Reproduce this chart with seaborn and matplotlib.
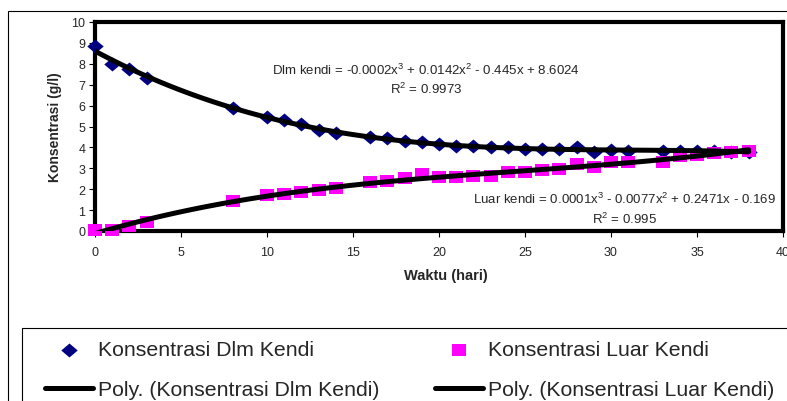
import seaborn as sns
import matplotlib.pyplot as plt
from matplotlib.patches import Rectangle
import numpy as np

# waktu (hari)
hari = [0, 1, 2, 3, 8, 10, 11, 12, 13, 14, 16, 17, 18, 19, 20, 21, 22,
        23, 24, 25, 26, 27, 28, 29, 30, 31, 33, 34, 35, 36, 37, 38]

# konsentrasi dalam kendi (g/l)
dlm_kendi = [8.85, 8.0, 7.75, 7.3, 5.9, 5.45, 5.3, 5.1, 4.85, 4.7, 4.5, 4.45,
             4.3, 4.25, 4.15, 4.07, 4.07, 4.0, 4.0, 3.9, 3.9, 3.9, 4.0, 3.78,
             3.88, 3.85, 3.85, 3.85, 3.85, 3.85, 3.8, 3.8]

# konsentrasi luar kendi (g/l)
luar_kendi = [0.05, 0.05, 0.25, 0.45, 1.45, 1.7, 1.77, 1.85, 1.97, 2.04, 2.36,
              2.41, 2.52, 2.72, 2.56, 2.6, 2.64, 2.64, 2.8, 2.8, 2.93, 2.96,
              3.2, 3.04, 3.28, 3.28, 3.28, 3.57, 3.64, 3.73, 3.79, 3.83]

lbl_dlm = 'Konsentrasi Dlm Kendi'
lbl_luar = 'Konsentrasi Luar Kendi'
lbl_poly_dlm = 'Poly. (Konsentrasi Dlm Kendi)'
lbl_poly_luar = 'Poly. (Konsentrasi Luar Kendi)'

sns.set_style('white')
plt.rcParams['font.family'] = ['Liberation Sans', 'DejaVu Sans']
plt.rcParams['mathtext.fontset'] = 'custom'
plt.rcParams['mathtext.rm'] = 'Liberation Sans'
plt.rcParams['mathtext.it'] = 'Liberation Sans:italic'

fig = plt.figure(figsize=(7.87, 4.02), dpi=100)
ax = fig.add_axes([95/787, 1 - 232/402, (783 - 95)/787, (232 - 23)/402])

# slightly wide markers (the original chart is stretched sideways)
wide_diamond = [(-1, 0), (0, 0.85), (1, 0), (0, -0.85)]
wide_square = [(-1, -0.8), (1, -0.8), (1, 0.8), (-1, 0.8)]

sns.scatterplot(x=hari, y=dlm_kendi, ax=ax, marker=wide_diamond,
                color='#000080', s=140, linewidth=0, label=lbl_dlm,
                clip_on=False, zorder=3)
sns.scatterplot(x=hari, y=luar_kendi, ax=ax, marker=wide_square,
                color='#FF00FF', s=115, linewidth=0, label=lbl_luar,
                clip_on=False, zorder=3)

# polynomial trendlines (order 3)
sns.regplot(x=hari, y=dlm_kendi, ax=ax, order=3, scatter=False, ci=None,
            label=lbl_poly_dlm, line_kws=dict(color='black', lw=3.6, zorder=4))
sns.regplot(x=hari, y=luar_kendi, ax=ax, order=3, scatter=False, ci=None,
            label=lbl_poly_luar, line_kws=dict(color='black', lw=3.6, zorder=4))

ax.set_xlim(0, 40)
ax.set_ylim(0, 10)
ax.set_xticks(range(0, 41, 5))
ax.set_yticks(range(0, 11))
ax.tick_params(axis='both', labelsize=9, length=4, width=0.8, color='black',
               direction='out', left=True, bottom=True)
ax.tick_params(axis='x', pad=6.5)
ax.tick_params(axis='y', pad=3)
for sp in ax.spines.values():
    sp.set_visible(True)
    sp.set_color('black')
    sp.set_linewidth(3)

ax.set_xlabel('Waktu (hari)', fontsize=10.5, fontweight='bold')
ax.set_ylabel('Konsentrasi (g/l)', fontsize=10, fontweight='bold')
ax.xaxis.set_label_coords(0.51, -0.175)
ax.yaxis.set_label_coords(-0.048, 0.5)

# trendline equations
ax.text(19.25, 7.75, 'Dlm kendi = -0.0002x$^3$ + 0.0142x$^2$ - 0.445x + 8.6024',
        fontsize=9.5, ha='center', va='center')
ax.text(19.25, 6.8, 'R$^2$ = 0.9973', fontsize=9.5, ha='center', va='center')
ax.text(30.78, 1.55, 'Luar kendi = 0.0001x$^3$ - 0.0077x$^2$ + 0.2471x - 0.169',
        fontsize=9.5, ha='center', va='center')
ax.text(30.78, 0.58, 'R$^2$ = 0.995', fontsize=9.5, ha='center', va='center')

# legend
h, l = ax.get_legend_handles_labels()
lookup = dict(zip(l, h))
order = [lbl_dlm, lbl_poly_dlm, lbl_luar, lbl_poly_luar]
if ax.get_legend():
    ax.get_legend().remove()
leg = fig.legend([lookup[k] for k in order], order, loc='upper left',
                 bbox_to_anchor=(45/787, 1 - 341.5/402), ncol=2, fontsize=15.3,
                 frameon=False, borderaxespad=0, borderpad=0,
                 handlelength=2.26, handletextpad=0.24, columnspacing=2.59,
                 labelspacing=0.98, markerscale=1.0)

# legend box and outer chart border (both run past the image edge)
fig.add_artist(Rectangle((21.5/787, -0.1), 1.2, 1 - 328.5/402 + 0.1,
                         transform=fig.transFigure, fill=False,
                         lw=0.8, ec='black'))
fig.add_artist(Rectangle((8/787, -0.1), 1.2, 1 - 12/402 + 0.1,
                         transform=fig.transFigure, fill=False,
                         lw=0.8, ec='black'))

fig.savefig('out.png', dpi=100, facecolor='white')
